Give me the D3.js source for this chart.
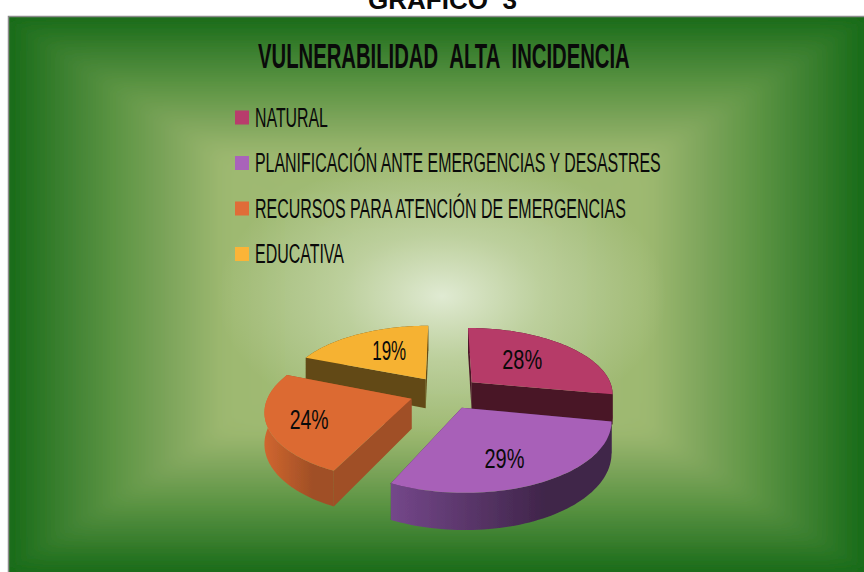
<!DOCTYPE html>
<html lang="es">
<head>
    <meta charset="UTF-8">
    <title>Vulnerabilidad alta incidencia</title>
    <script src="https://d3js.org/d3.v7.min.js"></script>
    <style>
        html, body { margin: 0; padding: 0; background: #fff; overflow: hidden; }
        svg { display: block; }
        text { font-family: "Liberation Sans Narrow", "Liberation Sans", sans-serif; fill: #0a0a0a; }
    </style>
</head>
<body>
<svg width="864" height="572"></svg>

<script>
    // datos
    var categories = ['NATURAL', 'PLANIFICACIÓN ANTE EMERGENCIAS Y DESASTRES', 'RECURSOS PARA ATENCIÓN DE EMERGENCIAS', 'EDUCATIVA'];
    var values = [28, 29, 24, 19];

    // estilos
    var topColors = ['#b63a67', '#a860b8', '#dc6a33', '#f6b233'];
    var legendColors = ['#b83d6c', '#a963ba', '#e06c38', '#fbb437'];
    var cutColors = ['#4a1527', '#452a4f', '#a04f26', '#624a14'];
    var rimColors = [['#4a1527', '#4a1527'], ['#74478a', '#40254a'], ['#d0662f', '#a04f26'], ['#624a14', '#624a14']];
    var legendWidths = [73, 406, 371, 89];
    var labelFrac = [0.51, 0.69, 0.72, 0.52];
    var labelTurn = [0, 6, 0, 0];
    var labelDy = [6, 9, 12, 6];
    var labelWidths = [40, 40, 39, 34];

    var svg = d3.select('svg');
    var frame = {x: 9, y: 17, w: 855, h: 555};
    var defs = svg.append('defs');

    // ajusta el ancho del texto escalando solo en x
    function fitText(sel, x, y, width) {
        var w = sel.node().getComputedTextLength();
        sel.attr('transform', 'translate(' + x + ',' + y + ') scale(' + (width / w) + ',1)');
    }

    // ---- fondo: degradado rectangular desde el centro ----
    var bgCx = 436, bgCy = 294;
    var bgStops = [
        [0, '#a8c07c'], [0.5, '#9db870'], [0.63, '#7ca45a'],
        [0.74, '#5f9645'], [0.86, '#3f8232'], [1, '#186b18']
    ];
    var x0 = frame.x, x1 = frame.x + frame.w, y0 = frame.y, y1 = frame.y + frame.h;
    var bgParts = [
        {id: 'bgT', pts: [[x0, y0], [x1, y0]], end: [bgCx, y0]},
        {id: 'bgB', pts: [[x1, y1], [x0, y1]], end: [bgCx, y1]},
        {id: 'bgL', pts: [[x0, y1], [x0, y0]], end: [x0, bgCy]},
        {id: 'bgR', pts: [[x1, y0], [x1, y1]], end: [x1, bgCy]}
    ];

    defs.append('clipPath').attr('id', 'frameClip').append('rect')
        .attr('x', frame.x).attr('y', frame.y).attr('width', frame.w).attr('height', frame.h);
    defs.append('filter').attr('id', 'soft')
        .attr('filterUnits', 'userSpaceOnUse')
        .attr('x', 0).attr('y', 0).attr('width', 864).attr('height', 572)
        .append('feGaussianBlur').attr('stdDeviation', 7);
    defs.append('filter').attr('id', 'soften')
        .append('feGaussianBlur').attr('stdDeviation', 0.45);

    var bgClip = svg.append('g').attr('clip-path', 'url(#frameClip)');
    bgClip.append('rect')
        .attr('x', frame.x).attr('y', frame.y).attr('width', frame.w).attr('height', frame.h)
        .attr('fill', '#186b18');
    var bg = bgClip.append('g').attr('filter', 'url(#soft)');

    bgParts.forEach(function (p) {
        var grad = defs.append('linearGradient').attr('id', p.id)
            .attr('gradientUnits', 'userSpaceOnUse')
            .attr('x1', bgCx).attr('y1', bgCy)
            .attr('x2', p.end[0]).attr('y2', p.end[1]);
        bgStops.forEach(function (s) {
            grad.append('stop').attr('offset', s[0]).attr('stop-color', s[1]);
        });
        bg.append('polygon')
            .attr('points', p.pts.concat([[bgCx, bgCy]]).join(' '))
            .attr('fill', 'url(#' + p.id + ')')
            .attr('stroke', 'url(#' + p.id + ')')
            .attr('stroke-width', 0.6);
    });

    var glow = defs.append('radialGradient').attr('id', 'glow');
    glow.append('stop').attr('offset', 0).attr('stop-color', '#e6efdc').attr('stop-opacity', 0.9);
    glow.append('stop').attr('offset', 0.45).attr('stop-color', '#dfe9d0').attr('stop-opacity', 0.42);
    glow.append('stop').attr('offset', 1).attr('stop-color', '#dfe9d0').attr('stop-opacity', 0);
    svg.append('ellipse')
        .attr('cx', 442).attr('cy', 296)
        .attr('rx', 225).attr('ry', 140)
        .attr('fill', 'url(#glow)');

    // borde gris
    svg.append('path')
        .attr('d', 'M8.5,572V16.5H864')
        .attr('fill', 'none').attr('stroke', '#8c8c8c').attr('stroke-width', 1.5);

    // ---- titulos ----
    svg.append('text')
        .style('font-family', '"Liberation Sans", sans-serif')
        .style('font-weight', 'bold').style('font-size', '25px')
        .text('GRAFICO\u00a0\u00a03')
        .call(fitText, 368, 9, 149);

    svg.append('text')
        .style('font-weight', 'bold').style('font-size', '35px')
        .text('VULNERABILIDAD\u00a0\u00a0ALTA\u00a0\u00a0INCIDENCIA')
        .call(fitText, 258, 68, 372);

    // ---- leyenda ----
    var legendY = d3.scalePoint().domain(categories).range([126.5, 263]);
    var legend = svg.selectAll('.legend').data(categories).enter().append('g')
        .attr('class', 'legend')
        .attr('transform', function (d) { return 'translate(235,' + legendY(d) + ')'; });
    legend.append('rect')
        .attr('y', -16).attr('width', 14).attr('height', 14)
        .attr('fill', function (d, i) { return legendColors[i]; });
    legend.append('text')
        .style('font-size', '28px')
        .text(function (d) { return d; })
        .each(function (d, i) { d3.select(this).call(fitText, 20, 0, legendWidths[i]); });

    // ---- pastel 3D: d3.pie para los angulos, proyeccion con perspectiva ----
    var cx = 445, cy = 392.5, R = 142, ky = 66, persp = 0.16, depth = 30, explode = 0.25;

    function project(X, Y, h) {
        var s = 1 / (1 - persp * Y);
        return [cx + X * R * s, cy + ky * Y * s + (h || 0) * s];
    }
    function ground(a, r, off) {
        return [off[0] + r * Math.sin(a), off[1] - r * Math.cos(a)];
    }

    var pie = d3.pie().sort(null);
    var slices = pie(values);
    var line = d3.line();

    var gPie = svg.append('g').attr('filter', 'url(#soften)');
    var drawOrder = [3, 0, 2, 1];

    drawOrder.forEach(function (i) {
        var d = slices[i];
        var mid = (d.startAngle + d.endAngle) / 2;
        var off = [explode * Math.sin(mid), -explode * Math.cos(mid)];
        var angles = d3.range(0, 61).map(function (k) {
            return d.startAngle + (d.endAngle - d.startAngle) * k / 60;
        });
        var edge = angles.map(function (a) { return ground(a, 1, off); });

        function wall(pts) {
            var tops = pts.map(function (p) { return project(p[0], p[1], 0); });
            var bottoms = pts.map(function (p) { return project(p[0], p[1], depth); }).reverse();
            return line(tops.concat(bottoms)) + 'Z';
        }

        // degradado del borde curvo
        var xs = edge.map(function (p) { return project(p[0], p[1], 0)[0]; });
        var rim = defs.append('linearGradient').attr('id', 'rim' + i)
            .attr('gradientUnits', 'userSpaceOnUse')
            .attr('x1', d3.min(xs)).attr('x2', d3.min(xs) + (d3.max(xs) - d3.min(xs)) * 0.7)
            .attr('y1', 0).attr('y2', 0);
        rim.append('stop').attr('offset', 0).attr('stop-color', rimColors[i][0]);
        rim.append('stop').attr('offset', 1).attr('stop-color', rimColors[i][1]);

        var walls = [
            {pts: [off, edge[0]], fill: cutColors[i]},
            {pts: [off, edge[60]], fill: cutColors[i]},
            {pts: edge, fill: 'url(#rim' + i + ')'}
        ];
        walls.forEach(function (w) { w.order = d3.mean(w.pts, function (p) { return p[1]; }); });
        walls.sort(function (a, b) { return a.order - b.order; });

        var g = gPie.append('g');
        walls.forEach(function (w) {
            g.append('path').attr('d', wall(w.pts)).attr('fill', w.fill);
        });

        var surface = [off].concat(edge).map(function (p) { return project(p[0], p[1], 0); });
        g.append('path').attr('d', line(surface) + 'Z').attr('fill', topColors[i]);
    });

    // ---- etiquetas ----
    slices.forEach(function (d, i) {
        var mid = (d.startAngle + d.endAngle) / 2;
        var off = [explode * Math.sin(mid), -explode * Math.cos(mid)];
        var p = ground(mid + labelTurn[i] * Math.PI / 180, labelFrac[i], off);
        var pos = project(p[0], p[1], 0);
        svg.append('text')
            .style('font-size', '28px')
            .text(d.value + '%')
            .call(fitText, pos[0] - labelWidths[i] / 2, pos[1] + labelDy[i], labelWidths[i]);
    });
</script>
</body>
</html>
